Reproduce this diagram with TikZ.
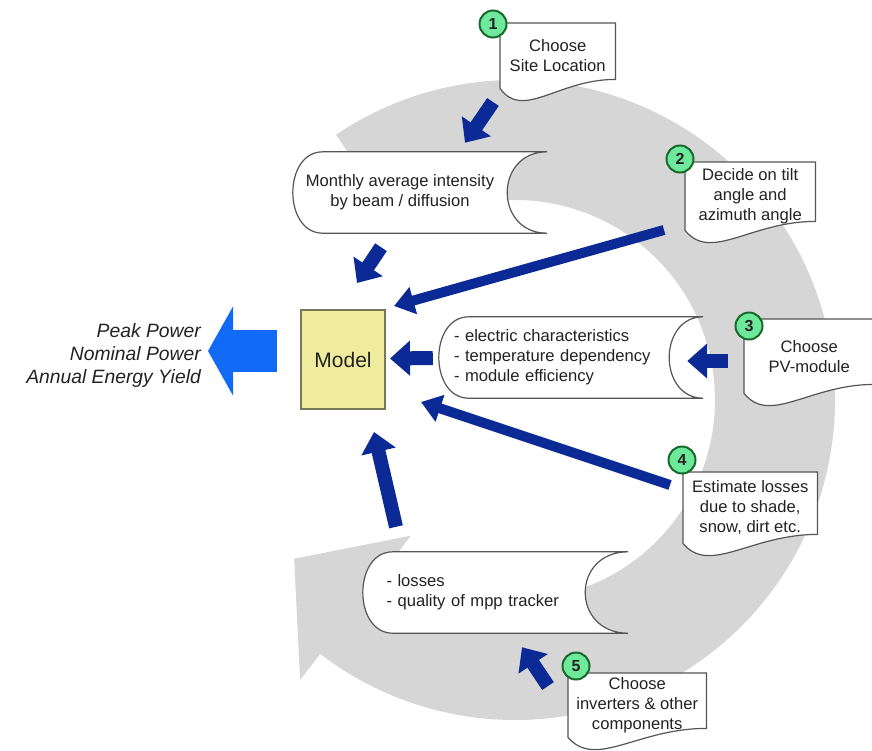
\documentclass[tikz,border=0pt]{standalone}
\usepackage{fontspec}
\setmainfont{Liberation Sans}
\usetikzlibrary{arrows.meta,positioning,calc}

\definecolor{bandgray}{RGB}{214,214,214}
\definecolor{navyarrow}{RGB}{12,42,150}
\definecolor{brightblue}{RGB}{16,106,245}
\definecolor{modelfill}{RGB}{240,236,158}
\definecolor{modeldraw}{RGB}{120,120,90}
\definecolor{stepgreen}{RGB}{110,232,155}
\definecolor{stepring}{RGB}{25,105,45}
\definecolor{boxline}{RGB}{85,85,85}
\definecolor{textdark}{RGB}{34,34,34}

\pgfdeclarelayer{band}
\pgfdeclarelayer{shapes}
\pgfsetlayers{band,shapes,main}

% outline of a stored-data box: node, left bulge, right bulge
\newcommand{\storedoutline}[3]{%
  \begin{pgfonlayer}{shapes}
  \filldraw[fill=white,draw=boxline,line width=1.2pt]
    ([xshift=#2]#1.north west) -- ([xshift=#3]#1.north east)
    .. controls ([xshift={-0.333*#3}]#1.north east) and ([xshift={-0.333*#3}]#1.south east)
    .. ([xshift=#3]#1.south east)
    -- ([xshift=#2]#1.south west)
    .. controls ([xshift={-0.333*#2}]#1.south west) and ([xshift={-0.333*#2}]#1.north west)
    .. ([xshift=#2]#1.north west) -- cycle;
  \end{pgfonlayer}}

% outline of a document box with wavy bottom
\newcommand{\docoutline}[1]{%
  \begin{pgfonlayer}{shapes}
  \filldraw[fill=white,draw=boxline,line width=1.2pt]
    (#1.north west) -- (#1.north east) -- ([shift={(0,-9)}]#1.south east)
    .. controls ($(#1.south east)!0.5!(#1.south west)+(0,-9)$)
    and ($(#1.south east)!0.8!(#1.south west)+(0,32)$)
    .. (#1.south west) -- cycle;
  \end{pgfonlayer}}

\tikzset{
  docbox/.style={rectangle, align=center, anchor=north west, inner sep=2pt,
    font=\fontsize{16.6}{20}\selectfont},
  storedbox/.style={inner sep=0pt, font=\fontsize{16.6}{20}\selectfont},
  stepmark/.style={circle, fill=stepgreen, draw=stepring, line width=2pt,
    minimum size=27pt, inner sep=0pt, font=\fontsize{16}{16}\selectfont\bfseries},
  modelbox/.style={rectangle, fill=modelfill, draw=modeldraw, line width=2pt,
    minimum width=84pt, minimum height=99pt, font=\fontsize{21}{21}\selectfont},
  thickarrow/.style={draw=navyarrow, line width=14pt, -{Triangle[width=34pt,length=20pt]}},
  thinarrow/.style={draw=navyarrow, line width=10pt, -{Triangle[width=27pt,length=20pt]}},
  outarrow/.style={draw=brightblue, line width=42pt, -{Triangle[width=88pt,length=25pt]}}
}

\begin{document}
\begin{tikzpicture}[x=1pt,y=-1pt,text=textdark]
\useasboundingbox (0,0) rectangle (872,750);

% the cycle
\begin{pgfonlayer}{band}
\begin{scope}[shift={(515,400)}]
\fill[bandgray] (236:320) arc[start angle=236,end angle=487.5,radius=320]
  -- (487.5:353) -- (504.3:272) -- (487.5:171) -- (487.5:200)
  arc[start angle=487.5,end angle=236,radius=200] -- cycle;
\end{scope}
\end{pgfonlayer}

% model and result
\node[modelbox] (model) at (343,359.5) {Model};
\node[align=right, inner sep=0pt, left=99pt of model, yshift=3.5pt,
  font=\fontsize{19.3}{23}\selectfont\itshape] (result)
  {Peak Power\\Nominal Power\\Annual Energy Yield};

% stored data
\node[storedbox, minimum width=214pt, minimum height=81pt, align=center] (monthly) at (400,192.5)
  {Monthly average intensity\\by beam / diffusion};
\storedoutline{monthly}{30pt}{40pt}
\node[storedbox, minimum width=230pt, minimum height=81pt, text width=200pt, align=left] (elec) at (554,357.5)
  {- electric characteristics\\- temperature dependency\\- module efficiency};
\storedoutline{elec}{30pt}{34pt}
\node[storedbox, minimum width=222pt, minimum height=81pt, text width=175pt, align=left] (losses) at (474,592.5)
  {- losses\\- quality of mpp tracker};
\storedoutline{losses}{30pt}{43pt}

% steps
\node[docbox, minimum width=115pt, minimum height=65pt] (d1) at (500,23)
  {Choose\\Site Location};
\node[docbox, minimum width=130pt, minimum height=68pt] (d2) at (685,162)
  {Decide on tilt\\angle and\\azimuth angle};
\node[docbox, minimum width=130pt, minimum height=74pt] (d3) at (744,319)
  {Choose\\PV-module};
\node[docbox, minimum width=134pt, minimum height=71pt] (d4) at (683,472)
  {Estimate losses\\due to shade,\\snow, dirt etc.};
\node[docbox, minimum width=138pt, minimum height=64pt] (d5) at (568,673)
  {Choose\\inverters \& other\\components};
\foreach \d in {d1,d2,d3,d4,d5}{\docoutline{\d}}

\node[stepmark] (s1) at ([shift={(-7,1)}]d1.north west) {1};
\node[stepmark] (s2) at ([shift={(-5,-3)}]d2.north west) {2};
\node[stepmark] (s3) at ([shift={(5,7)}]d3.north west) {3};
\node[stepmark] (s4) at ([shift={(-1,-12)}]d4.north west) {4};
\node[stepmark] (s5) at ([shift={(8,-7)}]d5.north west) {5};

% arrows
\draw[outarrow] ([shift={(-23,-8.5)}]model.west) -- ([shift={(7,-5)}]result.east);
\draw[thickarrow] ([shift={(-7,79)}]d1.north west) -- ([shift={(65,-9)}]monthly.north);
\draw[thickarrow] ([shift={(-19,14)}]monthly.south) -- ([shift={(14,-26)}]model.north);
\draw[thinarrow] ([shift={(-21,68)}]d2.north west) -- ([shift={(8,-3)}]model.north east);
\draw[thickarrow] ([shift={(-6,0.5)}]elec.west) -- ([shift={(4,-1)}]model.east);
\draw[thickarrow] ([shift={(-16,42)}]d3.north west) -- ([shift={(18,3.5)}]elec.east);
\draw[thinarrow] ([shift={(-13,13)}]d4.north west) -- ([shift={(35,-8)}]model.south east);
\draw[thickarrow] ([shift={(-78,-25)}]losses.north) -- ([shift={(31,22)}]model.south);
\draw[thickarrow] ([shift={(-20,13)}]d5.north west) -- ([shift={(48,14)}]losses.south);
\end{tikzpicture}
\end{document}
